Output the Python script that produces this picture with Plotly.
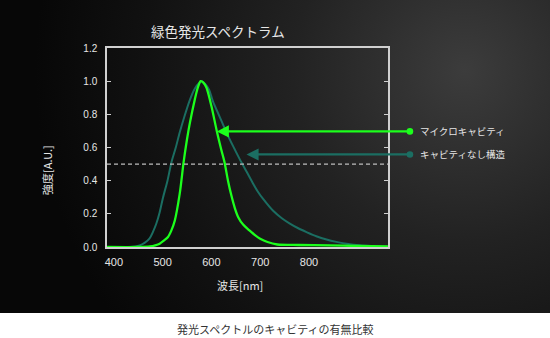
import base64
import plotly.graph_objects as go

# ---- data ----
wl_micro = [386, 450, 474, 485, 494, 503, 511, 518, 525, 535, 543, 550, 556, 566, 572, 578,
            584, 590, 600, 611, 620, 627, 634, 641, 648, 655, 665, 678, 690, 700, 715, 735,
            780, 840, 900, 962]
int_micro = [0, 0, 0.003, 0.01, 0.02, 0.04, 0.06, 0.10, 0.16, 0.32, 0.51, 0.65, 0.75, 0.89, 0.96, 1.0,
             0.99, 0.96, 0.85, 0.70, 0.59, 0.51, 0.40, 0.31, 0.235, 0.18, 0.135, 0.10, 0.07, 0.05, 0.03, 0.015,
             0.012, 0.01, 0.006, 0.003]

wl_plain = [386, 433, 453, 463, 473, 480, 487, 494, 501, 510, 518, 527, 535, 545, 555, 565, 572, 580,
            588, 595, 603, 617, 631, 645, 658, 672, 685, 695, 706, 726, 745, 760, 778, 795, 815, 836,
            856, 877, 905, 931, 962]
int_plain = [0, 0, 0.01, 0.025, 0.05, 0.09, 0.14, 0.21, 0.30, 0.40, 0.51, 0.60, 0.69, 0.79, 0.88, 0.95, 0.98, 1.0,
             0.98, 0.95, 0.88, 0.785, 0.69, 0.605, 0.53, 0.455, 0.385, 0.335, 0.29, 0.22, 0.172, 0.143, 0.113, 0.09, 0.065, 0.045,
             0.031, 0.02, 0.01, 0.005, 0.0]

x_ticks = [400, 500, 600, 700, 800]
y_ticks = [0.0, 0.2, 0.4, 0.6, 0.8, 1.0, 1.2]
x_range = [386, 962]
y_range = [0, 1.2]
ref_level = 0.5

title_text = "緑色発光スペクトラム"
x_title = "波長[nm]"
y_title = "強度[A.U.]"
label_micro = "マイクロキャビティ"
label_plain = "キャビティなし構造"
caption = "発光スペクトルのキャビティの有無比較"

GREEN = "#1cff1c"
TEAL = "#1b6e62"
CJK = "Noto Sans CJK JP"
LAT = "Liberation Sans, Arial, sans-serif"

# ---- background gradient (SVG) ----
svg = """<svg xmlns='http://www.w3.org/2000/svg' width='550' height='313' viewBox='0 0 550 313'>
<defs><radialGradient id='g' gradientUnits='userSpaceOnUse' cx='465' cy='70' r='430'>
<stop offset='0' stop-color='#3c3c3c'/><stop offset='0.4' stop-color='#222222'/>
<stop offset='0.75' stop-color='#111111'/><stop offset='1' stop-color='#070707'/>
</radialGradient></defs>
<rect width='550' height='313' fill='url(#g)'/></svg>"""
bg_src = "data:image/svg+xml;base64," + base64.b64encode(svg.encode()).decode()

L, R, T, B = 107, 162, 48, 91
W, H = 550, 338
pw, ph = W - L - R, H - T - B

def px2paper_x(px):
    return (px - L) / pw

def py2paper_y(py):
    return (H - B - py) / ph

fig = go.Figure()
fig.add_trace(go.Scatter(x=wl_plain, y=int_plain, mode="lines",
                         line=dict(color=TEAL, width=2, shape="spline", smoothing=0.8),
                         showlegend=False, hoverinfo="skip"))
fig.add_trace(go.Scatter(x=wl_micro, y=int_micro, mode="lines",
                         line=dict(color=GREEN, width=2.3, shape="spline", smoothing=0.8),
                         showlegend=False, hoverinfo="skip"))

fig.add_shape(type="line", xref="paper", x0=0, x1=1, yref="y", y0=ref_level, y1=ref_level,
              line=dict(color="#bdbdbd", width=1.2, dash="4px,3px"))

# arrows
fig.add_annotation(x=611, y=0.697, xref="x", yref="y", ax=1010, ay=0.697, axref="x", ayref="y",
                   text="", showarrow=True, arrowhead=2, arrowsize=1.1, arrowwidth=2.2,
                   arrowcolor=GREEN, arrowside="end+start", startarrowhead=6, startarrowsize=0.75)
fig.add_annotation(x=672, y=0.558, xref="x", yref="y", ax=1010, ay=0.558, axref="x", ayref="y",
                   text="", showarrow=True, arrowhead=2, arrowsize=1.1, arrowwidth=2.2,
                   arrowcolor=TEAL, arrowside="end+start", startarrowhead=6, startarrowsize=0.75)
fig.add_annotation(x=px2paper_x(418), y=0.697, xref="paper", yref="y", text=label_micro,
                   showarrow=False, xanchor="left", yanchor="middle",
                   font=dict(family=CJK, size=9.5, color="#e6e6e6"))
fig.add_annotation(x=px2paper_x(418), y=0.558, xref="paper", yref="y", text=label_plain,
                   showarrow=False, xanchor="left", yanchor="middle",
                   font=dict(family=CJK, size=9.5, color="#e6e6e6"))

# titles
fig.add_annotation(x=px2paper_x(218), y=py2paper_y(31), xref="paper", yref="paper", text=title_text,
                   showarrow=False, xanchor="center", yanchor="middle",
                   font=dict(family=CJK, size=13.5, color="#e6e6e6"))
fig.add_annotation(x=px2paper_x(240), y=py2paper_y(285), xref="paper", yref="paper", text=x_title,
                   showarrow=False, xanchor="center", yanchor="middle",
                   font=dict(family=CJK, size=11, color="#e6e6e6"))
fig.add_annotation(x=px2paper_x(47), y=py2paper_y(170), xref="paper", yref="paper", text=y_title,
                   showarrow=False, xanchor="center", yanchor="middle", textangle=-90,
                   font=dict(family=CJK, size=11, color="#e6e6e6"))
fig.add_annotation(x=px2paper_x(275), y=py2paper_y(329), xref="paper", yref="paper", text=caption,
                   showarrow=False, xanchor="center", yanchor="middle",
                   font=dict(family=CJK, size=11, color="#333333"))

fig.add_layout_image(dict(source=bg_src, xref="paper", yref="paper",
                          x=px2paper_x(0), y=py2paper_y(0), sizex=W / pw, sizey=313 / ph,
                          xanchor="left", yanchor="top", sizing="stretch", layer="below"))

fig.update_layout(
    width=W, height=H,
    margin=dict(l=L, r=R, t=T, b=B, pad=0),
    paper_bgcolor="white", plot_bgcolor="rgba(0,0,0,0)",
    showlegend=False,
)
fig.update_xaxes(range=x_range, tickvals=x_ticks, showgrid=False, zeroline=False,
                 showline=True, mirror=True, linecolor="#d0d0d0", linewidth=1.5,
                 ticks="", tickfont=dict(family=LAT, size=11, color="#e6e6e6"),
                 ticklabelstandoff=4)
fig.update_yaxes(range=y_range, tickvals=y_ticks, tickformat=".1f", showgrid=False, zeroline=False,
                 showline=True, mirror="ticks", linecolor="#d0d0d0", linewidth=1.5,
                 ticks="inside", ticklen=4, tickcolor="#d0d0d0", tickwidth=1,
                 tickfont=dict(family=LAT, size=10, color="#e6e6e6"), ticklabelstandoff=6)

fig.write_html("out.html")
